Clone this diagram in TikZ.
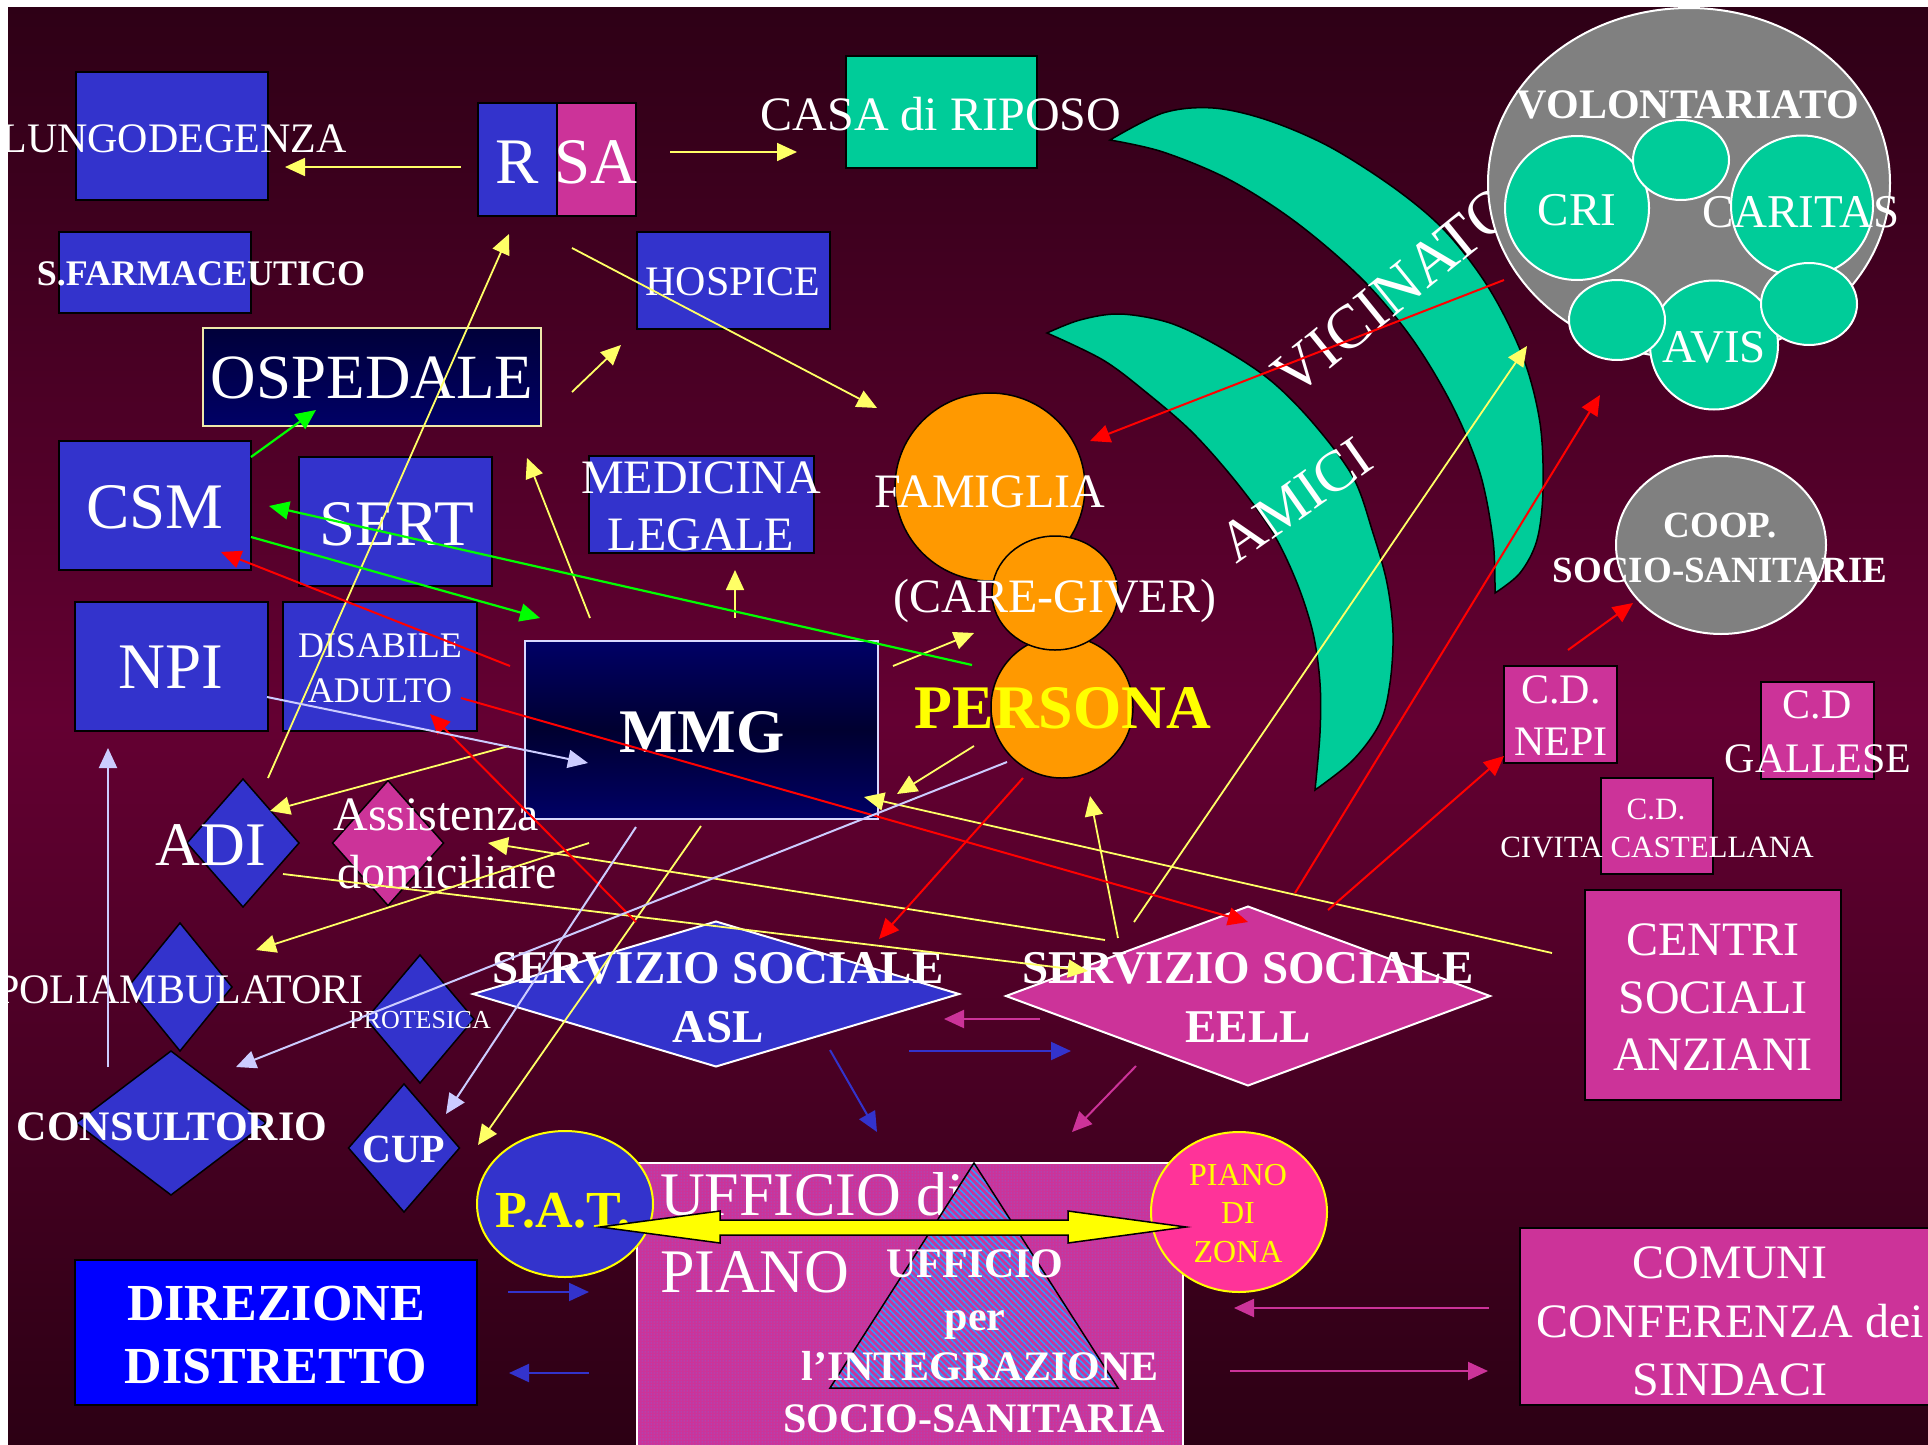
\documentclass[tikz,border=0pt]{standalone}
\usepackage{fontspec}
\setmainfont{Liberation Serif}
\usetikzlibrary{shapes.geometric,arrows.meta,patterns.meta}
\definecolor{bgtop}{HTML}{2E0016}
\definecolor{bgmid}{HTML}{640032}
\definecolor{bgbot}{HTML}{2C0014}
\definecolor{blueB}{HTML}{3333CC}
\definecolor{magB}{HTML}{CC3399}
\definecolor{tealB}{HTML}{00CC99}
\definecolor{orangeB}{HTML}{FF9900}
\definecolor{grayB}{HTML}{808080}
\definecolor{navyA}{HTML}{000066}
\definecolor{navyB}{HTML}{000030}
\definecolor{dirB}{HTML}{0000FF}
\definecolor{zonaP}{HTML}{FF3399}
\definecolor{arrY}{HTML}{FFFF66}
\definecolor{arrL}{HTML}{CCCCFF}
\definecolor{arrG}{HTML}{00FF00}
\definecolor{arrR}{HTML}{FF0000}
\definecolor{creamB}{HTML}{EEE8AA}
\definecolor{hatchB}{HTML}{3399FF}
\definecolor{dotB}{HTML}{6677EE}
\definecolor{yelT}{HTML}{FFFF00}
\newcommand{\fsz}[1]{\fontsize{#1}{#1}\selectfont}
\newcommand{\arrw}[4]{\coordinate (#1-s) at (#3); \coordinate (#1-e) at (#4); \draw[#2] (#1-s) -- (#1-e);}
\tikzset{
  box/.style={rectangle, draw=black, line width=1.5pt, inner sep=0pt, outer sep=0pt},
  dia/.style={diamond, draw=black, line width=1.5pt, inner sep=0pt, outer sep=0pt, fill=blueB},
  ell/.style={ellipse, draw=black, line width=1.5pt, inner sep=0pt, outer sep=0pt},
  lbl/.style={text=white, inner sep=0pt, outer sep=0pt, anchor=base},
  band/.style={fill=tealB, draw=black, line width=1.5pt},
  tipS/.style={-{Triangle[length=20pt,width=18pt]}},
  ya/.style={tipS, draw=arrY, line width=1.8pt},
  ga/.style={tipS, draw=arrG, line width=2.2pt},
  ra/.style={tipS, draw=arrR, line width=2pt},
  la/.style={tipS, draw=arrL, line width=2pt},
  ba/.style={tipS, draw=blueB, line width=2pt},
  ma/.style={tipS, draw=magB, line width=2pt},
}
\begin{document}
\begin{tikzpicture}[x=1pt,y=-1pt]
\useasboundingbox (0,0) rectangle (1928,1445);
\fill[white] (0,0) rectangle (1928,1445);
\shade[top color=bgtop, bottom color=bgmid] (8,7) rectangle (1928,720);
\shade[top color=bgmid, bottom color=bgbot] (8,719) rectangle (1928,1445);

% bands
\path[band] plot[smooth, tension=0.55] coordinates {(1110,140) (1163,113) (1213,108) (1267,120) (1330,147) (1397,190) (1447,233) (1490,290) (1523,357) (1540,423) (1543,490) (1537,540) (1520,573) (1495,593)}
  -- plot[smooth, tension=0.55] coordinates {(1495,593) (1493,540) (1480,473) (1453,407) (1413,340) (1363,280) (1297,223) (1230,180) (1163,152) (1110,140)} -- cycle;
\path[band] plot[smooth, tension=0.55] coordinates {(1047,333) (1080,320) (1120,314) (1170,323) (1220,347) (1270,380) (1313,423) (1353,477) (1373,533) (1387,583) (1393,633) (1390,683) (1380,723) (1353,760) (1315,790)}
  -- plot[smooth, tension=0.55] coordinates {(1315,790) (1320,733) (1320,683) (1313,633) (1297,583) (1273,533) (1237,483) (1193,433) (1147,393) (1103,360) (1047,333)} -- cycle;
\node[text=white, inner sep=0pt, rotate=39, font=\fsz{62}] (t-vic) at (1394,291) {VICINATO};
\node[text=white, inner sep=0pt, rotate=35, font=\fsz{58}] (t-ami) at (1296,500) {AMICI};

% volontariato
\node[ell, fill=grayB, draw=white, line width=2pt, minimum width=402pt, minimum height=350pt] (vol) at (1689,183) {};
\node[ell, fill=tealB, draw=white, line width=2pt, minimum width=144pt, minimum height=144pt] (cri) at (1577,208) {};
\node[ell, fill=tealB, draw=white, line width=2pt, minimum width=142pt, minimum height=141pt] (car) at (1802,206) {};
\node[ell, fill=tealB, draw=white, line width=2pt, minimum width=128pt, minimum height=129pt] (avis) at (1714,345) {};
\node[ell, fill=tealB, draw=white, line width=2pt, minimum width=96pt, minimum height=80pt] (sm1) at (1681,160) {};
\node[ell, fill=tealB, draw=white, line width=2pt, minimum width=96pt, minimum height=80pt] (sm2) at (1617,320) {};
\node[ell, fill=tealB, draw=white, line width=2pt, minimum width=96pt, minimum height=82pt] (sm3) at (1809,304) {};
\node[ell, fill=grayB, draw=white, line width=2pt, minimum width=210pt, minimum height=178pt] (coop) at (1721,545) {};

% boxes
\node[box, fill=blueB, minimum width=192pt, minimum height=128pt] (lung) at (172,136) {};
\node[box, fill=blueB, minimum width=79pt, minimum height=113pt] (rsaR) at (517.5,159.5) {};
\node[box, fill=magB, minimum width=79pt, minimum height=113pt] (rsaS) at (596.5,159.5) {};
\node[box, fill=tealB, minimum width=191pt, minimum height=112pt] (casa) at (941.5,112) {};
\node[box, fill=blueB, minimum width=193pt, minimum height=97pt] (hosp) at (733.5,280.5) {};
\node[box, fill=blueB, minimum width=192pt, minimum height=81pt] (farm) at (155,272.5) {};
\node[box, draw=creamB, top color=navyB!120!black, bottom color=navyA, minimum width=338pt, minimum height=98pt] (osp) at (372,377) {};
\node[box, fill=blueB, minimum width=192pt, minimum height=129pt] (csm) at (155,505.5) {};
\node[box, fill=blueB, minimum width=193pt, minimum height=129pt] (sert) at (395.5,521.5) {};
\node[box, fill=blueB, minimum width=225pt, minimum height=97pt] (medl) at (701.5,504.5) {};
\node[box, fill=blueB, minimum width=193pt, minimum height=129pt] (npi) at (171.5,666.5) {};
\node[box, fill=blueB, minimum width=194pt, minimum height=129pt] (disa) at (380,666.5) {};
\node[box, draw=white!85!blue, top color=navyA, bottom color=navyA, middle color=navyB, minimum width=353pt, minimum height=178pt] (mmg) at (701.5,730) {};
\node[box, fill=magB, minimum width=113pt, minimum height=97pt] (nepi) at (1560.5,714.5) {};
\node[box, fill=magB, minimum width=113pt, minimum height=97pt] (gall) at (1817.5,730.5) {};
\node[box, fill=magB, minimum width=112pt, minimum height=96pt] (civi) at (1657,826) {};
\node[box, fill=magB, minimum width=256pt, minimum height=210pt] (cent) at (1713,995) {};
\node[box, fill=magB, minimum width=420pt, minimum height=177pt] (comu) at (1730,1316.5) {};
\node[box, fill=dirB, minimum width=402pt, minimum height=145pt] (dire) at (276,1332.5) {};

% orange ellipses
\node[ell, fill=orangeB, minimum width=190pt, minimum height=188pt] (fam) at (990,487) {};
\node[ell, fill=orangeB, minimum width=142pt, minimum height=142pt] (pers) at (1062,707) {};
\node[ell, fill=orangeB, minimum width=126pt, minimum height=114pt] (care) at (1055,593) {};

% diamonds
\node[dia, draw=white, line width=2pt, minimum width=486pt, minimum height=145pt] (asl) at (716,994) {};
\node[dia, fill=magB, draw=white, line width=2pt, minimum width=484pt, minimum height=179pt] (eell) at (1248,996) {};
\node[dia, minimum width=112pt, minimum height=128pt] (adi) at (243,843) {};
\node[dia, fill=magB, minimum width=111pt, minimum height=125pt] (assi) at (388,843) {};
\node[dia, minimum width=104pt, minimum height=128pt] (poli) at (180,987) {};
\node[dia, minimum width=108pt, minimum height=128pt] (prot) at (420,1019) {};
\node[dia, minimum width=190pt, minimum height=144pt] (cons) at (171,1123) {};
\node[dia, minimum width=111pt, minimum height=128pt] (cup) at (404,1148) {};

% ufficio di piano
\node[rectangle, inner sep=0pt, draw=white, line width=1.5pt, preaction={fill=magB}, pattern={Dots[distance=3pt, radius=0.5pt]}, pattern color=dotB, minimum width=546pt, minimum height=297pt] (uffi) at (910,1311.5) {};
\node[lbl, anchor=base west, font=\fsz{62}] (t-uff1) at (660,1215) {UFFICIO di};
\node[lbl, anchor=base west, font=\fsz{62}] (t-uff2) at (660,1292) {PIANO};
\path[draw=black, line width=1.5pt, preaction={fill=magB}, pattern={Lines[angle=-45, distance=4.5pt, line width=1.6pt]}, pattern color=hatchB] (974,1163) -- (1118,1388) -- (830,1388) -- cycle;
\node[ell, fill=blueB, draw=yelT, line width=2pt, minimum width=176pt, minimum height=146pt] (pat) at (565,1204) {};
\node[ell, fill=zonaP, draw=yelT, line width=2pt, minimum width=176pt, minimum height=160pt] (zona) at (1239,1212) {};

% texts
\node[lbl, font=\fsz{42}] (t-lung) at (174,152) {LUNGODEGENZA};
\node[lbl, font=\fsz{65}] (t-R) at (517,183) {R};
\node[lbl, font=\fsz{65}] (t-SA) at (596,183) {SA};
\node[lbl, font=\fsz{48}] (t-casa) at (941,130) {CASA di RIPOSO};
\node[lbl, font=\fsz{42}] (t-hosp) at (733,295) {HOSPICE};
\node[lbl, font=\fsz{36}\bfseries] (t-farm) at (201,285) {S.FARMACEUTICO};
\node[lbl, font=\fsz{63}] (t-osp) at (372,398) {OSPEDALE};
\node[lbl, font=\fsz{65}] (t-csm) at (155,528) {CSM};
\node[lbl, font=\fsz{65}] (t-sert) at (397,545) {SERT};
\node[lbl, font=\fsz{48}] (t-med1) at (701,493) {MEDICINA};
\node[lbl, font=\fsz{48}] (t-med2) at (701,550) {LEGALE};
\node[lbl, font=\fsz{65}] (t-npi) at (171,688) {NPI};
\node[lbl, font=\fsz{36}] (t-dis1) at (380,657) {DISABILE};
\node[lbl, font=\fsz{36}] (t-dis2) at (380,702) {ADULTO};
\node[lbl, font=\fsz{62}\bfseries] (t-mmg) at (702,752) {MMG};
\node[lbl, font=\fsz{48}] (t-fam) at (990,507) {FAMIGLIA};
\node[lbl, font=\fsz{48}] (t-care) at (1055,612) {(CARE-GIVER)};
\node[lbl, text=yelT, font=\fsz{62}\bfseries] (t-pers) at (1063,728) {PERSONA};
\node[lbl, font=\fsz{42}\bfseries] (t-vol) at (1688,118) {VOLONTARIATO};
\node[lbl, font=\fsz{47}] (t-cri) at (1577,225) {CRI};
\node[lbl, font=\fsz{47}] (t-car) at (1801,227) {CARITAS};
\node[lbl, font=\fsz{47}] (t-avis) at (1714,362) {AVIS};
\node[lbl, font=\fsz{37}\bfseries] (t-coop1) at (1720,537) {COOP.};
\node[lbl, font=\fsz{37}\bfseries] (t-coop2) at (1720,582) {SOCIO-SANITARIE};
\node[lbl, font=\fsz{42}] (t-nepi1) at (1561,703) {C.D.};
\node[lbl, font=\fsz{42}] (t-nepi2) at (1561,755) {NEPI};
\node[lbl, font=\fsz{42}] (t-gal1) at (1817,718) {C.D};
\node[lbl, font=\fsz{42}] (t-gal2) at (1818,772) {GALLESE};
\node[lbl, font=\fsz{31}] (t-civ1) at (1656,819) {C.D.};
\node[lbl, font=\fsz{31}] (t-civ2) at (1657,857) {CIVITA CASTELLANA};
\node[lbl, font=\fsz{48}] (t-cen1) at (1713,955) {CENTRI};
\node[lbl, font=\fsz{48}] (t-cen2) at (1713,1013) {SOCIALI};
\node[lbl, font=\fsz{48}] (t-cen3) at (1713,1070) {ANZIANI};
\node[lbl, font=\fsz{48}] (t-com1) at (1730,1278) {COMUNI};
\node[lbl, font=\fsz{48}] (t-com2) at (1730,1337) {CONFERENZA dei};
\node[lbl, font=\fsz{48}] (t-com3) at (1730,1395) {SINDACI};
\node[lbl, text=yelT, font=\fsz{32}] (t-zon1) at (1238,1185) {PIANO};
\node[lbl, text=yelT, font=\fsz{32}] (t-zon2) at (1238,1223) {DI};
\node[lbl, text=yelT, font=\fsz{32}] (t-zon3) at (1238,1262) {ZONA};
\node[lbl, font=\fsz{42}\bfseries] (t-tri1) at (975,1277) {UFFICIO};
\node[lbl, font=\fsz{42}\bfseries] (t-tri2) at (975,1330) {per};
\node[lbl, font=\fsz{42}\bfseries] (t-tri3) at (980,1380) {l’INTEGRAZIONE};
\node[lbl, font=\fsz{42}\bfseries] (t-tri4) at (974,1432) {SOCIO-SANITARIA};
\node[lbl, text=yelT, font=\fsz{52}\bfseries] (t-pat) at (563,1227) {P.A.T.};
\node[lbl, font=\fsz{52}\bfseries] (t-dir1) at (276,1320) {DIREZIONE};
\node[lbl, font=\fsz{52}\bfseries] (t-dir2) at (276,1383) {DISTRETTO};
\node[lbl, font=\fsz{47}\bfseries] (t-asl1) at (718,983) {SERVIZIO SOCIALE};
\node[lbl, font=\fsz{47}\bfseries] (t-asl2) at (718,1042) {ASL};
\node[lbl, font=\fsz{47}\bfseries] (t-eel1) at (1248,983) {SERVIZIO SOCIALE};
\node[lbl, font=\fsz{47}\bfseries] (t-eel2) at (1248,1042) {EELL};
\node[lbl, font=\fsz{62}] (t-adi) at (211,865) {ADI};
\node[lbl, font=\fsz{48}] (t-ass1) at (436,830) {Assistenza};
\node[lbl, font=\fsz{48}] (t-ass2) at (447,888) {domiciliare};
\node[lbl, font=\fsz{42}] (t-pol) at (180,1003) {POLIAMBULATORI};
\node[lbl, font=\fsz{26}] (t-pro) at (420,1028) {PROTESICA};
\node[lbl, font=\fsz{42}\bfseries] (t-con) at (172,1140) {CONSULTORIO};
\node[lbl, font=\fsz{40}\bfseries] (t-cup) at (404,1162) {CUP};

% yellow arrows
\arrw{y1}{ya}{461,167}{285,167}
\arrw{y2}{ya}{670,152}{797,152}
\arrw{y3}{ya}{572,248}{877,408}
\arrw{y4}{ya}{572,392}{621,345}
\arrw{y5}{ya}{268,778}{509,234}
\arrw{y6}{ya}{590,618}{527,458}
\arrw{y7}{ya}{735,618}{735,570}
\arrw{y8}{ya}{509,746}{270,811}
\arrw{y9}{ya}{893,666}{974,633}
\arrw{y10}{ya}{974,746}{897,794}
\arrw{y11}{ya}{1552,953}{864,797}
\arrw{y12}{ya}{1118,938}{1090,796}
\arrw{y13}{ya}{1134,922}{1527,346}
\arrw{y14}{ya}{589,843}{256,950}
\arrw{y15}{ya}{1105,940}{488,843}
\arrw{y16}{ya}{283,874}{1088,971}
\arrw{y17}{ya}{701,826}{478,1145}
% green
\arrw{g1}{ga}{251,457}{316,410}
\arrw{g2}{ga}{251,537}{540,618}
\arrw{g3}{ga}{972,665}{269,506}
% red
\arrw{r1}{ra}{1504,280}{1090,441}
\arrw{r2}{ra}{510,666}{221,552}
\arrw{r3}{ra}{461,698}{1248,922}
\arrw{r4}{ra}{636,922}{430,714}
\arrw{r5}{ra}{1023,778}{879,939}
\arrw{r6}{ra}{1295,893}{1600,395}
\arrw{r7}{ra}{1328,910}{1504,756}
\arrw{r8}{ra}{1568,650}{1633,603}
% lavender
\arrw{l1}{la}{267,697}{588,763}
\arrw{l2}{la}{1007,762}{236,1067}
\arrw{l3}{la}{636,827}{446,1114}
\arrw{l4}{la}{108,1067}{108,748}
% blue
\arrw{b1}{ba}{508,1292}{589,1292}
\arrw{b2}{ba}{589,1373}{509,1373}
\arrw{b3}{ba}{909,1051}{1071,1051}
\arrw{b4}{ba}{830,1050}{877,1132}
% magenta
\arrw{m1}{ma}{1040,1019}{944,1019}
\arrw{m2}{ma}{1136,1066}{1072,1132}
\arrw{m3}{ma}{1489,1308}{1234,1308}
\arrw{m4}{ma}{1230,1371}{1488,1371}

% fat double arrow P.A.T. <-> PIANO DI ZONA
\coordinate (fatL) at (600,1227);
\coordinate (fatR) at (1186,1227);
\draw[fill=yelT, draw=black, line width=1.5pt] (fatL) -- (720,1211) -- (720,1220) -- (1068,1220) -- (1068,1211) -- (fatR) -- (1068,1243) -- (1068,1235) -- (720,1235) -- (720,1243) -- cycle;

% margins
\fill[white] (0,0) rectangle (8,1445);
\fill[white] (0,0) rectangle (1928,7);
\end{tikzpicture}
\end{document}
